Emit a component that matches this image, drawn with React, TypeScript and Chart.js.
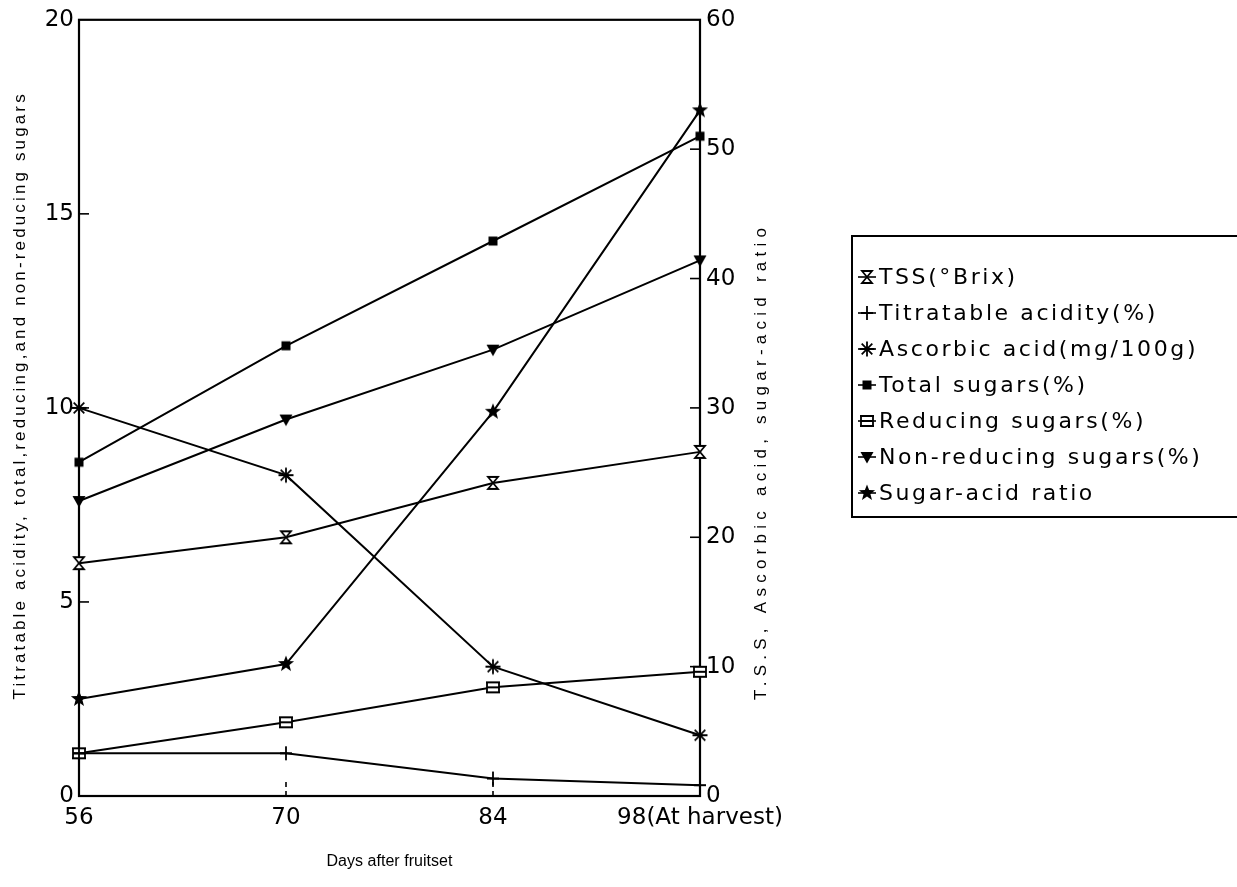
import React, { useEffect, useRef } from 'react';
import { Chart, registerables } from 'chart.js';

Chart.register(...registerables);

// ---- Data ----
const days = ['56', '70', '84', '98(At harvest)'];
const tss = [18.0, 20.0, 24.2, 26.6];
const titratableAcidity = [1.1, 1.1, 0.45, 0.28];
const ascorbicAcid = [30.0, 24.8, 10.0, 4.7];
const totalSugars = [8.6, 11.6, 14.3, 17.0];
const reducingSugars = [1.1, 1.9, 2.8, 3.2];
const nonReducingSugars = [7.6, 9.7, 11.5, 13.8];
const sugarAcidRatio = [7.5, 10.2, 29.7, 53.0];

const seriesNames = [
  'TSS(°Brix)',
  'Titratable acidity(%)',
  'Ascorbic acid(mg/100g)',
  'Total sugars(%)',
  'Reducing sugars(%)',
  'Non-reducing sugars(%)',
  'Sugar-acid ratio',
];
const leftAxisMin = 0;
const leftAxisMax = 20;
const leftAxisStep = 5;
const rightAxisMin = 0;
const rightAxisMax = 60;
const rightAxisStep = 10;
const xTitle = 'Days after fruitset';
const leftTitle = 'Titratable acidity, total,reducing,and non-reducing sugars';
const rightTitle = 'T.S.S, Ascorbic acid, sugar-acid ratio';

type MarkerKind = 'hourglass' | 'plus' | 'asterisk' | 'square' | 'box' | 'triDown' | 'star';

function makeMarker(kind: MarkerKind): HTMLCanvasElement {
  const size = 20;
  const c = document.createElement('canvas');
  c.width = size;
  c.height = size;
  const ctx = c.getContext('2d')!;
  ctx.translate(size / 2, size / 2);
  ctx.strokeStyle = '#000';
  ctx.fillStyle = '#000';
  ctx.lineWidth = 1.8;
  ctx.beginPath();
  switch (kind) {
    case 'hourglass':
      ctx.moveTo(-5, -6);
      ctx.lineTo(5, -6);
      ctx.lineTo(-5, 6);
      ctx.lineTo(5, 6);
      ctx.closePath();
      ctx.fillStyle = '#fff';
      ctx.fill();
      ctx.stroke();
      break;
    case 'plus':
      ctx.moveTo(-6, 0);
      ctx.lineTo(6, 0);
      ctx.moveTo(0, -7);
      ctx.lineTo(0, 7);
      ctx.stroke();
      break;
    case 'asterisk':
      for (let i = 0; i < 4; i++) {
        const a = (i * Math.PI) / 4;
        ctx.moveTo(Math.cos(a) * 7.5, Math.sin(a) * 7.5);
        ctx.lineTo(-Math.cos(a) * 7.5, -Math.sin(a) * 7.5);
      }
      ctx.stroke();
      break;
    case 'square':
      ctx.fillRect(-4.5, -4.5, 9, 9);
      break;
    case 'box':
      ctx.rect(-6, -5, 12, 10);
      ctx.fillStyle = '#fff';
      ctx.fill();
      ctx.stroke();
      ctx.beginPath();
      ctx.moveTo(-6, 0);
      ctx.lineTo(6, 0);
      ctx.moveTo(-7, -5);
      ctx.lineTo(7, -5);
      ctx.moveTo(-7, 5);
      ctx.lineTo(7, 5);
      ctx.stroke();
      break;
    case 'triDown':
      ctx.moveTo(-6.5, -5);
      ctx.lineTo(6.5, -5);
      ctx.lineTo(0, 6.5);
      ctx.closePath();
      ctx.fill();
      break;
    case 'star': {
      for (let i = 0; i < 10; i++) {
        const r = i % 2 === 0 ? 8.5 : 3.6;
        const a = -Math.PI / 2 + (i * Math.PI) / 5;
        const px = Math.cos(a) * r;
        const py = Math.sin(a) * r;
        if (i === 0) ctx.moveTo(px, py);
        else ctx.lineTo(px, py);
      }
      ctx.closePath();
      ctx.fill();
      break;
    }
  }
  return c;
}

function fitText(
  ctx: CanvasRenderingContext2D,
  text: string,
  cx: number,
  cy: number,
  target: number,
  rotate: boolean
) {
  ctx.save();
  ctx.translate(cx, cy);
  if (rotate) ctx.rotate(-Math.PI / 2);
  ctx.textBaseline = 'middle';
  (ctx as any).letterSpacing = '0px';
  const w = ctx.measureText(text).width;
  if (w >= target) {
    ctx.textAlign = 'center';
    ctx.fillText(text, 0, 0);
  } else {
    const sp = (target - w) / Math.max(1, text.length - 1);
    ctx.textAlign = 'left';
    (ctx as any).letterSpacing = sp.toFixed(2) + 'px';
    ctx.fillText(text, -target / 2, 0);
  }
  ctx.restore();
}

export default function App() {
  const ref = useRef<HTMLCanvasElement>(null);

  useEffect(() => {
    const canvas = ref.current!;
    const kinds: MarkerKind[] = ['hourglass', 'plus', 'asterisk', 'square', 'box', 'triDown', 'star'];
    const markers = kinds.map(makeMarker);
    const values = [tss, titratableAcidity, ascorbicAcid, totalSugars, reducingSugars, nonReducingSugars, sugarAcidRatio];
    const axisIds = ['yR', 'yL', 'yR', 'yL', 'yL', 'yL', 'yR'];

    const datasets = values.map((data, i) => ({
      label: seriesNames[i],
      data,
      yAxisID: axisIds[i],
      borderColor: '#000',
      backgroundColor: '#000',
      borderWidth: 2,
      tension: 0,
      fill: false,
      pointStyle: markers[i] as any,
      pointRadius: 6,
      clip: false as any,
    }));

    const decorPlugin = {
      id: 'decor',
      beforeDatasetsDraw(chart: any) {
        const { ctx, chartArea: a, scales } = chart;
        ctx.save();
        ctx.strokeStyle = '#000';
        ctx.lineWidth = 2.2;
        ctx.strokeRect(a.left, a.top, a.right - a.left, a.bottom - a.top);
        ctx.lineWidth = 1.6;
        for (let v = leftAxisMin + leftAxisStep; v < leftAxisMax; v += leftAxisStep) {
          const y = scales.yL.getPixelForValue(v);
          ctx.beginPath();
          ctx.moveTo(a.left, y);
          ctx.lineTo(a.left + 10, y);
          ctx.stroke();
        }
        for (let v = rightAxisMin + rightAxisStep; v < rightAxisMax; v += rightAxisStep) {
          const y = scales.yR.getPixelForValue(v);
          ctx.beginPath();
          ctx.moveTo(a.right, y);
          ctx.lineTo(a.right - 10, y);
          ctx.stroke();
        }
        ctx.setLineDash([5, 4]);
        for (let i = 1; i < days.length - 1; i++) {
          const x = scales.x.getPixelForValue(i);
          ctx.beginPath();
          ctx.moveTo(x, a.bottom);
          ctx.lineTo(x, a.bottom - 16);
          ctx.stroke();
        }
        ctx.restore();
      },
      afterDraw(chart: any) {
        const { ctx, chartArea: a } = chart;
        ctx.save();
        ctx.fillStyle = '#000';
        // axis titles
        ctx.font = '16px "Liberation Sans", Arial, sans-serif';
        fitText(ctx, xTitle, (a.left + a.right) / 2, 862, 126, false);
        ctx.font = '17px "Liberation Sans", Arial, sans-serif';
        fitText(ctx, leftTitle, 20, 397, 605, true);
        fitText(ctx, rightTitle, 761, 464, 472, true);

        // legend box
        const bx = 852;
        const by = 236;
        const bh = 281;
        ctx.strokeStyle = '#000';
        ctx.lineWidth = 2;
        ctx.strokeRect(bx, by, 1250 - bx, bh);
        const rowTop = 277;
        const rowGap = 36;
        ctx.font = '22px "DejaVu Sans", sans-serif';
        ctx.textAlign = 'left';
        ctx.textBaseline = 'middle';
        (ctx as any).letterSpacing = '2.6px';
        seriesNames.forEach((name, i) => {
          const y = rowTop + i * rowGap;
          ctx.lineWidth = 1.6;
          ctx.beginPath();
          ctx.moveTo(858, y);
          ctx.lineTo(876, y);
          ctx.stroke();
          const m = markers[i];
          ctx.drawImage(m, 867 - m.width / 2, y - m.height / 2);
          ctx.fillText(name, 879, y + 1);
        });
        (ctx as any).letterSpacing = '0px';
        ctx.restore();
      },
    };

    const tickFont = { family: '"DejaVu Sans", sans-serif', size: 23 };

    const chart = new Chart(canvas, {
      type: 'line',
      data: { labels: days, datasets: datasets as any },
      options: {
        animation: false,
        responsive: true,
        maintainAspectRatio: false,
        layout: { padding: { left: 0, right: 477, top: 16, bottom: 0 } },
        plugins: {
          legend: { display: false },
          tooltip: { enabled: false },
        },
        scales: {
          x: {
            type: 'category',
            offset: false,
            grid: { display: false, drawTicks: false },
            border: { display: false },
            ticks: { color: '#000', font: tickFont, padding: 8, maxRotation: 0, autoSkip: false },
            afterFit: (s: any) => {
              s.height = 91;
            },
          },
          yL: {
            type: 'linear',
            position: 'left',
            min: leftAxisMin,
            max: leftAxisMax,
            grid: { display: false, drawTicks: false },
            border: { display: false },
            ticks: { stepSize: leftAxisStep, color: '#000', font: tickFont, padding: 5 },
            afterFit: (s: any) => {
              s.width = 79;
            },
          },
          yR: {
            type: 'linear',
            position: 'right',
            min: rightAxisMin,
            max: rightAxisMax,
            grid: { display: false, drawTicks: false },
            border: { display: false },
            ticks: { stepSize: rightAxisStep, color: '#000', font: tickFont, padding: 6 },
            afterFit: (s: any) => {
              s.width = 60;
            },
          },
        } as any,
      },
      plugins: [decorPlugin],
    });

    return () => chart.destroy();
  }, []);

  return (
    <div style={{ position: 'fixed', left: 0, top: 0, width: 1237, height: 887, background: '#fff' }}>
      <canvas ref={ref} />
    </div>
  );
}
